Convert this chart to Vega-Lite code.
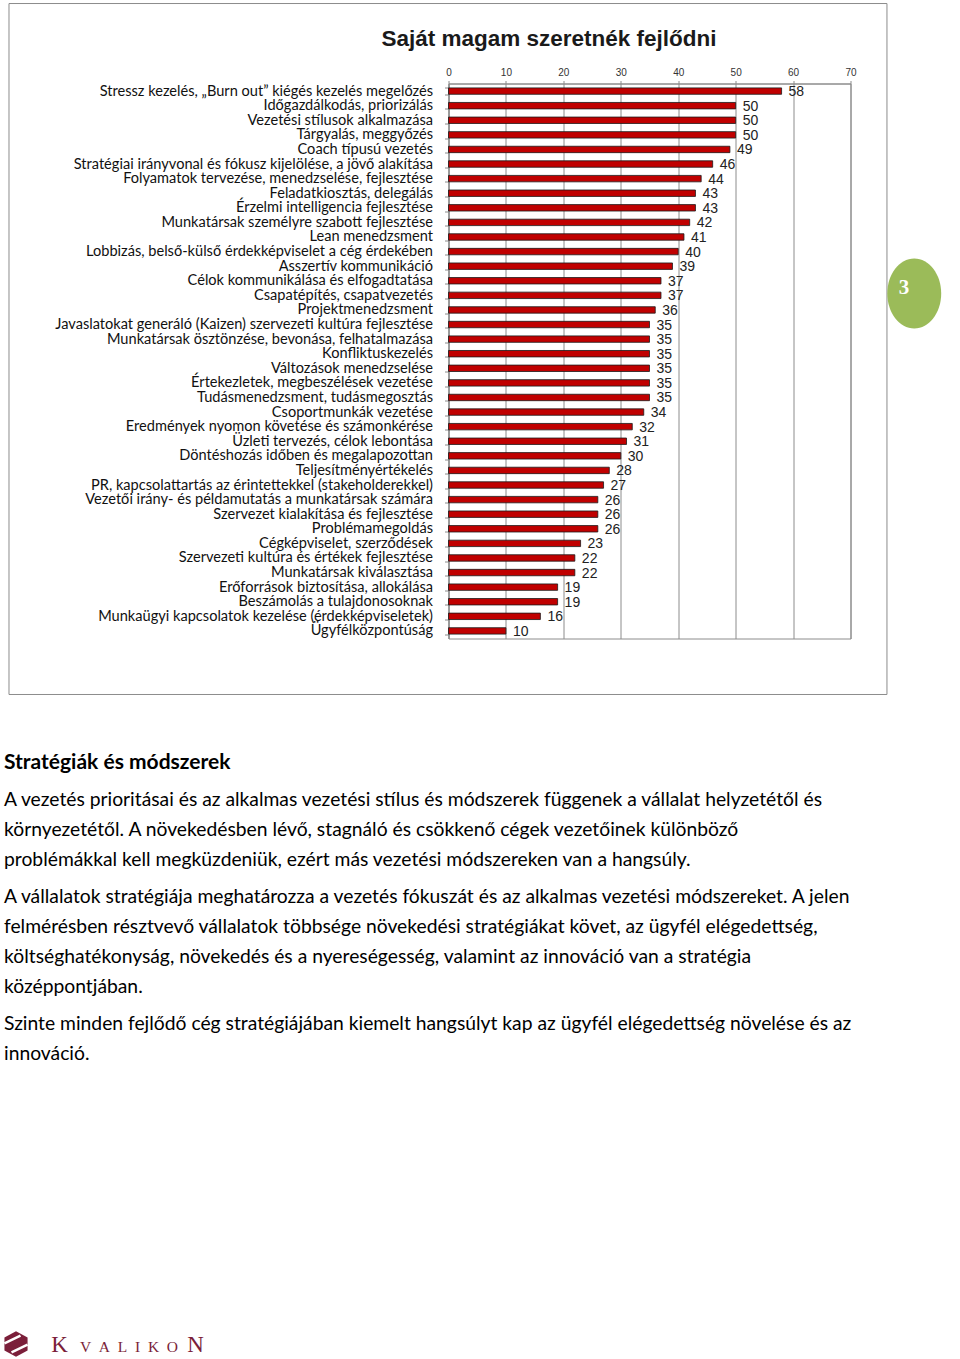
{
  "$schema": "https://vega.github.io/schema/vega-lite/v6.json",
  "background": "white",
  "padding": {"left": -1.5, "top": 2.5, "right": 0, "bottom": 0},
  "config": {"view": {"stroke": null}, "font": "Lato"},
  "datasets": {
    "skills": [
      {"skill": "Stressz kezelés, „Burn out” kiégés kezelés megelőzés", "value": 58},
      {"skill": "Időgazdálkodás, priorizálás", "value": 50},
      {"skill": "Vezetési stílusok alkalmazása", "value": 50},
      {"skill": "Tárgyalás, meggyőzés", "value": 50},
      {"skill": "Coach típusú vezetés", "value": 49},
      {"skill": "Stratégiai irányvonal és fókusz kijelölése, a jövő alakítása", "value": 46},
      {"skill": "Folyamatok tervezése, menedzselése, fejlesztése", "value": 44},
      {"skill": "Feladatkiosztás, delegálás", "value": 43},
      {"skill": "Érzelmi intelligencia fejlesztése", "value": 43},
      {"skill": "Munkatársak személyre szabott fejlesztése", "value": 42},
      {"skill": "Lean menedzsment", "value": 41},
      {"skill": "Lobbizás, belső-külső érdekképviselet a cég érdekében", "value": 40},
      {"skill": "Asszertív kommunikáció", "value": 39},
      {"skill": "Célok kommunikálása és elfogadtatása", "value": 37},
      {"skill": "Csapatépítés, csapatvezetés", "value": 37},
      {"skill": "Projektmenedzsment", "value": 36},
      {"skill": "Javaslatokat generáló (Kaizen) szervezeti kultúra fejlesztése", "value": 35},
      {"skill": "Munkatársak ösztönzése, bevonása, felhatalmazása", "value": 35},
      {"skill": "Konfliktuskezelés", "value": 35},
      {"skill": "Változások menedzselése", "value": 35},
      {"skill": "Értekezletek, megbeszélések vezetése", "value": 35},
      {"skill": "Tudásmenedzsment, tudásmegosztás", "value": 35},
      {"skill": "Csoportmunkák vezetése", "value": 34},
      {"skill": "Eredmények nyomon követése és számonkérése", "value": 32},
      {"skill": "Üzleti tervezés, célok lebontása", "value": 31},
      {"skill": "Döntéshozás időben és megalapozottan", "value": 30},
      {"skill": "Teljesítményértékelés", "value": 28},
      {"skill": "PR, kapcsolattartás az érintettekkel (stakeholderekkel)", "value": 27},
      {"skill": "Vezetői irány- és példamutatás a munkatársak számára", "value": 26},
      {"skill": "Szervezet kialakítása és fejlesztése", "value": 26},
      {"skill": "Problémamegoldás", "value": 26},
      {"skill": "Cégképviselet, szerződések", "value": 23},
      {"skill": "Szervezeti kultúra és értékek fejlesztése", "value": 22},
      {"skill": "Munkatársak kiválasztása", "value": 22},
      {"skill": "Erőforrások biztosítása, allokálása", "value": 19},
      {"skill": "Beszámolás a tulajdonosoknak", "value": 19},
      {"skill": "Munkaügyi kapcsolatok kezelése (érdekképviseletek)", "value": 16},
      {"skill": "Ügyfélközpontúság", "value": 10}
    ],
    "lines": [
      {"para": "h", "line": 1, "text": "Stratégiák és módszerek"},
      {"para": "p1", "line": 1, "text": "A vezetés prioritásai és az alkalmas vezetési stílus és módszerek függenek a vállalat helyzetétől és"},
      {"para": "p1", "line": 2, "text": "környezetétől. A növekedésben lévő, stagnáló és csökkenő cégek vezetőinek különböző"},
      {"para": "p1", "line": 3, "text": "problémákkal kell megküzdeniük, ezért más vezetési módszereken van a hangsúly."},
      {"para": "p2", "line": 1, "text": "A vállalatok stratégiája meghatározza a vezetés fókuszát és az alkalmas vezetési módszereket. A jelen"},
      {"para": "p2", "line": 2, "text": "felmérésben résztvevő vállalatok többsége növekedési stratégiákat követ, az ügyfél elégedettség,"},
      {"para": "p2", "line": 3, "text": "költséghatékonyság, növekedés és a nyereségesség, valamint az innováció van a stratégia"},
      {"para": "p2", "line": 4, "text": "középpontjában."},
      {"para": "p3", "line": 1, "text": "Szinte minden fejlődő cég stratégiájában kiemelt hangsúlyt kap az ügyfél elégedettség növelése és az"},
      {"para": "p3", "line": 2, "text": "innováció."}
    ]
  },
  "concat": [
    {
      "width": 402,
      "height": 555,
      "view": {"stroke": "#8c8c8c"},
      "layer": [
        {
          "data": {"values": [{}]},
          "mark": {"type": "rect", "filled": false, "stroke": "#8c8c8c", "strokeWidth": 1},
          "encoding": {
            "x": {"datum": -76.53, "type": "quantitative", "scale": {"domain": [0, 70], "nice": false}},
            "x2": {"datum": 76.35},
            "y": {"datum": 1.1441, "type": "quantitative", "scale": {"domain": [0, 1], "nice": false, "zero": false}, "axis": null},
            "y2": {"datum": -0.1009}
          }
        },
        {
          "data": {"name": "skills"},
          "layer": [
            {
              "mark": {"type": "bar", "color": "#C00000", "stroke": "#1a1a1a", "strokeWidth": 0.8},
              "encoding": {
                "y": {
                  "field": "skill", "type": "nominal", "sort": null,
                  "scale": {"paddingInner": 0.56, "paddingOuter": 0.3},
                  "axis": {"title": null, "labelFont": "Lato", "labelFontSize": 14.6, "labelColor": "#111111", "labelLimit": 600, "tickBand": "extent", "tickSize": 4, "tickColor": "#8c8c8c", "domainColor": "#8c8c8c", "labelPadding": 12, "grid": false}
                },
                "x": {
                  "field": "value", "type": "quantitative",
                  "scale": {"domain": [0, 70], "nice": false},
                  "axis": {"orient": "top", "title": null, "values": [0, 10, 20, 30, 40, 50, 60, 70], "grid": true, "gridColor": "#8c8c8c", "gridOpacity": 1, "domainColor": "#8c8c8c", "tickColor": "#8c8c8c", "tickSize": 3, "labelFont": "Liberation Sans", "labelFontSize": 10, "labelColor": "#333333", "labelPadding": 3, "labelFlush": false}
                }
              }
            },
            {
              "mark": {"type": "text", "align": "left", "baseline": "middle", "dx": 7, "dy": 1, "font": "Liberation Sans", "fontSize": 14, "color": "#222222"},
              "encoding": {
                "y": {"field": "skill", "type": "nominal", "sort": null},
                "x": {"field": "value", "type": "quantitative", "scale": {"domain": [0, 70], "nice": false}},
                "text": {"field": "value"}
              }
            }
          ]
        },
        {
          "data": {"values": [{"t": "Saját magam szeretnék fejlődni"}]},
          "mark": {"type": "text", "font": "Liberation Sans", "fontWeight": "bold", "fontSize": 22.5, "color": "#1a1a1a", "align": "center", "baseline": "middle"},
          "encoding": {
            "text": {"field": "t"},
            "x": {"datum": 17.5, "type": "quantitative", "scale": {"domain": [0, 70], "nice": false}},
            "y": {"datum": 1.0802, "type": "quantitative", "scale": {"domain": [0, 1], "nice": false, "zero": false}, "axis": null}
          }
        },
        {
          "data": {"values": [{"page": 3}]},
          "mark": {"type": "point", "filled": true, "opacity": 1, "color": "#9BBB59", "strokeWidth": 0, "size": 4900, "shape": "M -0.77 0 A 0.77 1 0 1 0 0.77 0 A 0.77 1 0 1 0 -0.77 0 Z"},
          "encoding": {
            "x": {"datum": 81.1, "type": "quantitative", "scale": {"domain": [0, 70], "nice": false}},
            "y": {"datum": 0.6216, "type": "quantitative", "scale": {"domain": [0, 1], "nice": false, "zero": false}, "axis": null}
          }
        },
        {
          "data": {"values": [{"page": 3}]},
          "mark": {"type": "text", "font": "Liberation Serif", "fontWeight": "bold", "fontSize": 21, "color": "white", "align": "center", "baseline": "middle"},
          "encoding": {
            "text": {"field": "page"},
            "x": {"datum": 79.3, "type": "quantitative", "scale": {"domain": [0, 70], "nice": false}},
            "y": {"datum": 0.6324, "type": "quantitative", "scale": {"domain": [0, 1], "nice": false, "zero": false}, "axis": null}
          }
        }
      ],
      "resolve": {"scale": {"y": "independent"}}
    },
    {
      "concat": [
        {
          "width": 402,
          "height": {"step": 30},
          "data": {"name": "lines"},
          "transform": [{"filter": "datum.para == 'h'"}],
          "mark": {"type": "text", "align": "left", "baseline": "middle", "font": "Lato", "fontSize": 21, "fontWeight": "bold", "color": "#000000"},
          "encoding": {
            "y": {"field": "line", "type": "ordinal", "axis": null},
            "x": {"datum": -77.4, "type": "quantitative", "scale": {"domain": [0, 70], "nice": false}, "axis": null},
            "text": {"field": "text"}
          }
        },
        {
          "width": 402,
          "height": {"step": 30},
          "data": {"name": "lines"},
          "transform": [{"filter": "datum.para == 'p1'"}],
          "mark": {"type": "text", "align": "left", "baseline": "middle", "font": "Lato", "fontSize": 19.3, "color": "#000000"},
          "encoding": {
            "y": {"field": "line", "type": "ordinal", "axis": null},
            "x": {"datum": -77.4, "type": "quantitative", "scale": {"domain": [0, 70], "nice": false}, "axis": null},
            "text": {"field": "text"}
          }
        },
        {
          "width": 402,
          "height": {"step": 30},
          "data": {"name": "lines"},
          "transform": [{"filter": "datum.para == 'p2'"}],
          "mark": {"type": "text", "align": "left", "baseline": "middle", "font": "Lato", "fontSize": 19.3, "color": "#000000"},
          "encoding": {
            "y": {"field": "line", "type": "ordinal", "axis": null},
            "x": {"datum": -77.4, "type": "quantitative", "scale": {"domain": [0, 70], "nice": false}, "axis": null},
            "text": {"field": "text"}
          }
        },
        {
          "width": 402,
          "height": {"step": 30},
          "data": {"name": "lines"},
          "transform": [{"filter": "datum.para == 'p3'"}],
          "mark": {"type": "text", "align": "left", "baseline": "middle", "font": "Lato", "fontSize": 19.3, "color": "#000000"},
          "encoding": {
            "y": {"field": "line", "type": "ordinal", "axis": null},
            "x": {"datum": -77.4, "type": "quantitative", "scale": {"domain": [0, 70], "nice": false}, "axis": null},
            "text": {"field": "text"}
          }
        },
        {
          "width": 10,
          "height": 246,
          "data": {"values": []},
          "mark": "point",
          "encoding": {}
        },
        {
          "width": 402,
          "height": 30,
          "data": {"values": [{"brand": "KVALIKON"}]},
          "layer": [
            {
              "mark": {"type": "point", "filled": true, "opacity": 1, "color": "#7b1f3a", "strokeWidth": 0, "size": 660, "shape": "M 0 -1 L 0.9 -0.5 L 0.9 0.5 L 0 1 L -0.9 0.5 L -0.9 -0.5 Z"},
              "encoding": {
                "x": {"datum": -75.31, "type": "quantitative", "scale": {"domain": [0, 70], "nice": false}, "axis": null}
              }
            },
            {
              "mark": {"type": "point", "filled": false, "opacity": 1, "color": "white", "strokeWidth": 2.5, "size": 660, "shape": "M -0.9 -0.05 L 0.35 -0.65 M -0.35 0.65 L 0.9 0.05"},
              "encoding": {
                "x": {"datum": -75.31, "type": "quantitative", "scale": {"domain": [0, 70], "nice": false}, "axis": null}
              }
            },
            {
              "mark": {"type": "text", "font": "Liberation Serif", "fontSize": 23, "color": "#7b1f3a", "align": "center", "baseline": "alphabetic", "dy": 8, "text": "K"},
              "encoding": {
                "x": {"datum": -67.73, "type": "quantitative", "scale": {"domain": [0, 70], "nice": false}, "axis": null}
              }
            },
            {
              "mark": {"type": "text", "font": "Liberation Serif", "fontSize": 15.5, "color": "#7b1f3a", "align": "center", "baseline": "alphabetic", "dy": 8, "text": "V\u2002A\u2002L\u2002I\u2002K\u2002O"},
              "encoding": {
                "x": {"datum": -55.64, "type": "quantitative", "scale": {"domain": [0, 70], "nice": false}, "axis": null}
              }
            },
            {
              "mark": {"type": "text", "font": "Liberation Serif", "fontSize": 23, "color": "#7b1f3a", "align": "center", "baseline": "alphabetic", "dy": 8, "text": "N"},
              "encoding": {
                "x": {"datum": -44.06, "type": "quantitative", "scale": {"domain": [0, 70], "nice": false}, "axis": null}
              }
            }
          ]
        }
      ],
      "columns": 1,
      "spacing": 7
    }
  ],
  "columns": 1,
  "spacing": 52.5
}
